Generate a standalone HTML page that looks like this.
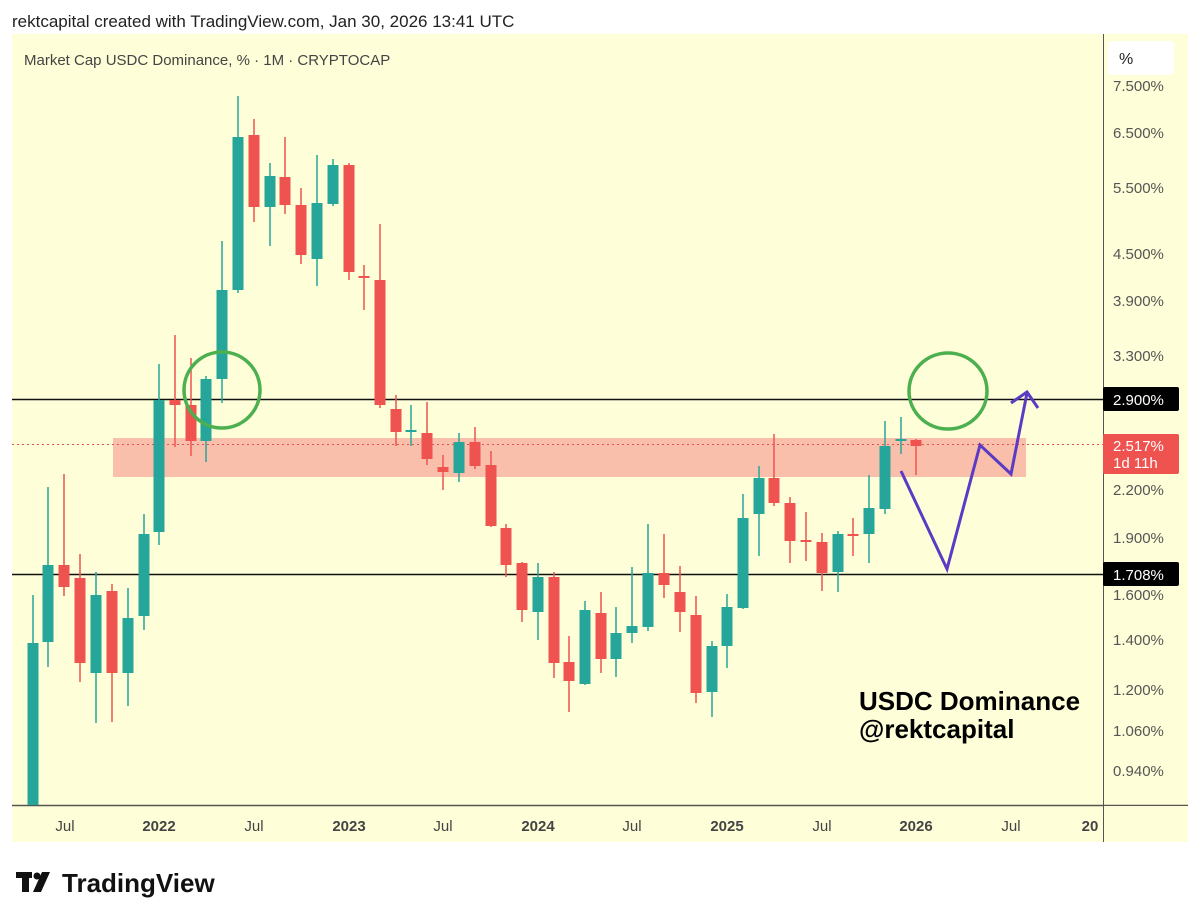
<!DOCTYPE html>
<html><head><meta charset="utf-8"><style>
html,body{margin:0;padding:0;background:#fff;width:1200px;height:922px;overflow:hidden;font-family:"Liberation Sans",sans-serif}
</style></head><body>
<svg id="s" width="1200" height="922" viewBox="0 0 1200 922" xmlns="http://www.w3.org/2000/svg" font-family="Liberation Sans, sans-serif">
<text x="12" y="27" font-size="17" fill="#222">rektcapital created with TradingView.com, Jan 30, 2026 13:41 UTC</text>
<rect x="12" y="34" width="1176" height="808" fill="#fefed8"/>
<text x="24" y="65" font-size="15" fill="#444">Market Cap USDC Dominance, % · 1M · CRYPTOCAP</text>
<rect x="1108" y="41" width="66" height="34" rx="4" fill="#fff"/>
<text x="1119" y="64" font-size="16" fill="#222">%</text>
<line x1="1103.5" y1="34" x2="1103.5" y2="842" stroke="#555" stroke-width="1"/>
<line x1="12" y1="805.5" x2="1188" y2="805.5" stroke="#555" stroke-width="1.5"/>
<rect x="113" y="438" width="913" height="39" fill="#f9bfaa"/>
<line x1="12" y1="444.5" x2="1103" y2="444.5" stroke="#e05050" stroke-width="1" stroke-dasharray="2,3"/>
<line x1="12" y1="399.5" x2="1103" y2="399.5" stroke="#111" stroke-width="1.5"/>
<line x1="12" y1="574.5" x2="1103" y2="574.5" stroke="#111" stroke-width="1.5"/>
<g id="c"></g>
<ellipse cx="222" cy="390" rx="38" ry="38" fill="none" stroke="#4caf50" stroke-width="3.5"/>
<ellipse cx="948" cy="391" rx="39" ry="38" fill="none" stroke="#4caf50" stroke-width="3.5"/>
<polyline points="901,471 947,569 980,445 1011,474 1027,393" fill="none" stroke="#5b3bc4" stroke-width="3"/>
<polyline points="1011,403 1027,392 1038,408" fill="none" stroke="#5b3bc4" stroke-width="3"/>
<text x="859" y="710" font-size="26" font-weight="bold" fill="#000">USDC Dominance</text>
<text x="859" y="738" font-size="26" font-weight="bold" fill="#000">@rektcapital</text>
<g font-size="15" fill="#555">
<text x="1113" y="91">7.500%</text>
<text x="1113" y="138">6.500%</text>
<text x="1113" y="193">5.500%</text>
<text x="1113" y="259">4.500%</text>
<text x="1113" y="306">3.900%</text>
<text x="1113" y="361">3.300%</text>
<text x="1113" y="495">2.200%</text>
<text x="1113" y="543">1.900%</text>
<text x="1113" y="600">1.600%</text>
<text x="1113" y="645">1.400%</text>
<text x="1113" y="695">1.200%</text>
<text x="1113" y="736">1.060%</text>
<text x="1113" y="776">0.940%</text>
</g>
<rect x="1103" y="387" width="76" height="24" rx="2" fill="#000"/>
<text x="1113" y="405" font-size="15" fill="#fff">2.900%</text>
<rect x="1103" y="434" width="76" height="40" rx="2" fill="#ef5350"/>
<text x="1113" y="451" font-size="15" fill="#fff">2.517%</text>
<text x="1113" y="468" font-size="15" fill="#fff">1d 11h</text>
<rect x="1103" y="562" width="76" height="24" rx="2" fill="#000"/>
<text x="1113" y="580" font-size="15" fill="#fff">1.708%</text>
<g font-size="15" fill="#444" text-anchor="middle">
<text x="65" y="831">Jul</text>
<text x="159" y="831" font-weight="bold">2022</text>
<text x="254" y="831">Jul</text>
<text x="349" y="831" font-weight="bold">2023</text>
<text x="443" y="831">Jul</text>
<text x="538" y="831" font-weight="bold">2024</text>
<text x="632" y="831">Jul</text>
<text x="727" y="831" font-weight="bold">2025</text>
<text x="822" y="831">Jul</text>
<text x="916" y="831" font-weight="bold">2026</text>
<text x="1011" y="831">Jul</text>
<text x="1090" y="831" font-weight="bold">20</text>
</g>
<rect x="1104" y="806" width="84" height="36" fill="#fefed8"/>
<g fill="#111">
<rect x="16" y="872" width="16" height="6"/><rect x="22" y="872" width="7" height="20"/>
<circle cx="37" cy="876" r="3.5"/>
<polygon points="42,872 50,872 41,892 33,892"/>
</g>
<text x="62" y="892" font-size="26" font-weight="bold" fill="#111">TradingView</text>
</svg>
<script>
var T="#26a69a",R="#ef5350";
var d=[[33,T,595,643,805,805],[48,T,487,565,642,667],[64,R,474,565,587,596],[80,R,554,578,663,682],[96,T,572,595,673,723],[112,R,584,591,673,722],[128,T,588,618,673,706],[144,T,514,534,616,630],[159,T,364,400,532,545],[175,R,335,400,405,447],[191,R,358,405,441,456],[206,T,376,379,441,462],[222,T,241,290,379,403],[238,T,96,137,290,293],[254,R,119,135,207,222],[270,T,163,176,207,246],[285,R,137,177,205,214],[301,R,188,205,255,264],[317,T,155,203,259,286],[333,T,159,165,204,206],[349,R,163,165,272,280],[364,R,265,276,278,310],[380,R,224,280,405,408],[396,R,395,409,432,446],[411,T,405,430,432,446],[427,R,402,433,459,465],[443,R,455,467,472,490],[459,T,433,442,473,482],[475,R,427,442,466,469],[491,R,451,465,526,527],[506,R,524,528,565,577],[522,R,562,563,610,622],[538,T,563,577,612,640],[554,R,572,577,663,678],[569,R,636,662,681,712],[585,T,601,610,684,685],[601,R,592,613,659,673],[616,T,607,633,659,677],[632,T,567,626,633,643],[648,T,524,573,627,631],[664,R,534,573,585,598],[680,R,566,592,612,632],[696,R,596,615,693,703],[712,T,641,646,692,717],[727,T,594,607,646,668],[743,T,494,518,608,609],[759,T,466,478,514,556],[774,R,434,478,503,506],[790,R,497,503,541,563],[806,R,512,540,542,561],[822,R,533,542,573,591],[838,T,531,534,572,592],[853,R,518,534,536,556],[869,T,475,508,534,563],[885,T,421,446,509,514],[901,T,417,439,441,454],[916,R,439,440,446,475]];
var g=document.getElementById("c"),h="";
d.forEach(function(c){var x=c[0],col=c[1];
h+='<line x1="'+x+'" y1="'+c[2]+'" x2="'+x+'" y2="'+c[5]+'" stroke="'+col+'" stroke-width="1.5"/>';
var bh=Math.max(2,c[4]-c[3]);
h+='<rect x="'+(x-5.5)+'" y="'+c[3]+'" width="11" height="'+bh+'" fill="'+col+'"/>';});
g.innerHTML=h;
</script>
</body></html>
